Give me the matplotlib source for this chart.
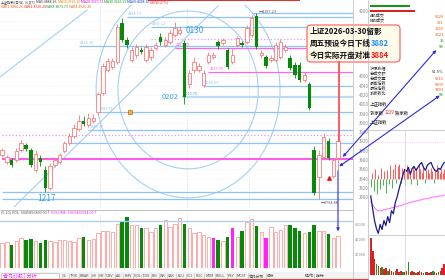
import matplotlib
matplotlib.use("Agg")
import matplotlib.pyplot as plt
from matplotlib.patches import Ellipse, FancyBboxPatch, Rectangle

plt.rcParams["font.family"] = ["Noto Sans CJK SC", "DejaVu Sans"]
plt.rcParams["axes.unicode_minus"] = False

W, H = 445, 280

# ---- 上证指数 日K ----
opens = [3890.8, 3875.7, 3880.0, 3880.0, 3901.6, 3912.3, 3901.6, 3858.5, 3884.3, 3858.5,
         3819.7, 3869.2, 3875.7, 3899.4, 3916.6, 3931.7, 3946.8, 3964.0, 3955.4, 3964.0,
         3983.4, 4024.4, 4074.0, 4080.4, 4091.2, 4175.2, 4138.6, 4095.5, 4106.3, 4117.1,
         4095.5, 4102.0, 4121.4, 4145.1, 4127.8, 4134.3, 4149.4, 4153.7, 4132.1, 4043.8,
         4074.0, 4074.0, 4041.6, 4091.2, 4102.0, 4134.3, 4132.1, 4117.1, 4091.2, 4127.8,
         4132.1, 4134.3, 4149.4, 4190.3, 4106.3, 4102.0, 4095.5, 4095.5, 4102.0, 4117.1,
         4099.8, 4084.7, 4084.7, 4052.4, 4043.8, 3901.6, 3843.4, 3886.5, 3920.9, 3845.5,
         3884.3]
closes = [3901.6, 3886.5, 3869.2, 3899.4, 3916.6, 3903.7, 3869.2, 3892.9, 3875.7, 3819.7,
          3867.1, 3880.0, 3890.8, 3916.6, 3931.7, 3949.0, 3964.0, 3957.6, 3970.5, 3970.5,
          4022.2, 4082.6, 4093.3, 4093.3, 4166.6, 4138.6, 4127.8, 4117.1, 4123.5, 4112.7,
          4123.5, 4117.1, 4127.8, 4134.3, 4138.6, 4153.7, 4164.5, 4160.2, 4015.8, 4067.5,
          4091.2, 4082.6, 4067.5, 4106.3, 4106.3, 4125.7, 4138.6, 4080.4, 4106.3, 4142.9,
          4127.8, 4164.5, 4186.0, 4123.5, 4110.6, 4082.6, 4099.8, 4127.8, 4134.3, 4123.5,
          4078.3, 4063.2, 4052.4, 4063.2, 3992.1, 3808.9, 3890.8, 3929.6, 3884.3, 3880.0,
          3920.9]
highs = [3905.9, 3890.8, 3884.3, 3905.9, 3923.1, 3916.6, 3905.9, 3901.6, 3890.8, 3867.1,
         3873.5, 3886.5, 3895.1, 3920.9, 3938.2, 3957.6, 3977.0, 3974.8, 3981.3, 3979.1,
         4026.5, 4089.0, 4099.8, 4099.8, 4173.1, 4186.0, 4145.1, 4123.5, 4130.0, 4123.5,
         4130.0, 4123.5, 4134.3, 4153.7, 4145.1, 4160.2, 4177.4, 4168.8, 4138.6, 4074.0,
         4102.0, 4089.0, 4074.0, 4112.7, 4112.7, 4138.6, 4142.9, 4121.4, 4121.4, 4147.2,
         4136.4, 4170.9, 4192.0, 4197.23, 4117.1, 4106.3, 4106.3, 4134.3, 4140.8, 4130.0,
         4106.3, 4091.2, 4091.2, 4069.6, 4048.1, 3910.2, 3901.6, 3938.2, 3927.4, 3884.3,
         3931.0]
lows = [3886.5, 3871.4, 3864.9, 3875.7, 3897.2, 3899.4, 3864.9, 3854.1, 3867.1, 3811.0,
        3815.0, 3864.9, 3871.4, 3895.1, 3912.3, 3927.4, 3942.5, 3953.3, 3951.1, 3959.7,
        3979.1, 4020.1, 4069.6, 4076.1, 4086.9, 4134.3, 4121.4, 4091.2, 4099.8, 4108.4,
        4091.2, 4095.5, 4117.1, 4127.8, 4123.5, 4130.0, 4145.1, 4149.4, 4000.7, 4035.2,
        4067.5, 4069.6, 4037.3, 4086.9, 4097.7, 4119.2, 4127.8, 4076.1, 4086.9, 4123.5,
        4123.5, 4130.0, 4145.1, 4119.2, 4099.8, 4078.3, 4091.2, 4091.2, 4097.7, 4112.7,
        4074.0, 4056.7, 4048.1, 4048.1, 3987.8, 3804.6, 3794.88, 3880.0, 3880.0, 3841.2,
        3858.5]
# 成交量(亿)
volumes = [39.5, 41.1, 36.3, 42.7, 47.4, 44.2, 45.8, 42.7, 39.5, 44.2,
           42.7, 41.1, 44.2, 44.2, 42.7, 41.1, 47.4, 49.0, 44.2, 45.8,
           55.3, 58.5, 58.5, 56.9, 69.5, 74.3, 80.6, 67.9, 67.9, 63.2,
           63.2, 56.9, 63.2, 67.9, 75.8, 64.8, 69.5, 79.0, 69.5, 63.2,
           55.3, 56.9, 52.1, 49.0, 47.4, 44.2, 42.7, 49.0, 63.2, 49.0,
           58.5, 72.7, 77.4, 66.4, 56.9, 47.4, 64.8, 56.9, 60.0, 67.9,
           67.9, 63.2, 58.5, 55.3, 56.9, 67.9, 58.5, 58.5, 53.7, 47.4,
           50.5]
magenta_vol = [44, 48, 55]
month_breaks = [20.5, 38.5, 51.5]

# 画线: (价格, 起点K线, 颜色, 线型, 标签)
h_lines = [
    (3794.88, 0, "#8fc3f7", "-", ""),
    (3811.0, 0, "#8fc3f7", "-", ""),
    (3882.0, 0, "#ff55ee", "-", ""),
    (3917.0, 14, "#8fc3f7", "-", ""),
    (3934.0, 0, "#f090e8", ":", ""),
    (3945.4, 18, "#8fc3f7", "-", "3945.37"),
    (3983.4, 20, "#8fc3f7", "-", "3983.71"),
    (4015.8, 37.5, "#b8daf8", "-", "4015.75"),
    (4040.0, 42, "#8fc3f7", "-", "4040.00"),
    (4069.8, 43, "#ff66ee", "-", "4069.76"),
    (4121.3, 36, "#ff66ee", "-", "4121.30"),
    (4126.1, 16, "#8fc3f7", "-", "4126.10"),
    (4140.0, 31, "#f3a0ec", ":", ""),
    (4166.1, 31, "#8fc3f7", "-", "4166.12"),
    (4188.7, 26, "#8fc3f7", "-", "4188.73"),
    (4197.23, 52, "#8fc3f7", "-", ""),
]
# 江恩线 (K线序号, 价格)
gann_lines = [((2.3, 3776.6), (45.0, 4212.0)), ((-0.42, 4059.0), (17.7, 4203.0))]
# 圆: 中心(K线, 价格), 宽(K线数), 高(点)
circles = [((38.75, 4031.0), 29.2, 340.0), ((38.75, 4031.0), 38.3, 465.0)]

# ---- 分时 ----
intraday_price = [3859.6, 3844.0, 3829.6, 3820.0, 3814.0, 3824.8, 3818.8, 3829.6, 3823.6, 3834.4,
                  3827.2, 3841.6, 3838.0, 3851.2, 3858.4, 3868.0, 3876.4, 3884.8, 3892.0, 3889.6,
                  3894.4, 3886.0, 3893.2, 3895.6, 3890.8, 3894.4, 3898.0, 3900.4, 3894.4, 3890.8,
                  3896.8, 3899.2, 3900.4, 3894.4, 3890.8, 3889.6, 3893.2, 3892.0, 3896.8, 3900.4]
intraday_avg = [3852.4, 3848.8, 3845.2, 3842.8, 3841.6, 3841.6, 3841.6, 3842.8, 3842.8, 3844.0,
                3844.0, 3845.2, 3845.2, 3846.4, 3846.4, 3847.6, 3847.6, 3848.8, 3850.0, 3850.0,
                3851.2, 3851.2, 3852.4, 3852.4, 3853.6, 3853.6, 3854.8, 3854.8, 3856.0, 3856.0,
                3856.0, 3857.2, 3857.2, 3858.4, 3858.4, 3858.4, 3859.6, 3859.6, 3859.6, 3860.8]
prev_close = 3880.0
strength = [-10, 7, -14, 12, -18, 5, -12, 14, -7, 10, -17, 11, -6, 17, -11, 13, 18, -5, 16, 19,
            -4, 14, 12, -8, 17, 13, 10, -6, 16, 11, 14, -7, 18, 12, 8, 16, -5, 11, 13, 7,
            14, 10, -4, 12, 17, 11, 8, 13, 7, 12]
intraday_vol = [33, 22, 14, 10, 8, 6, 7, 5, 6, 4, 5, 4, 3, 4, 5, 3, 4, 3, 3, 4,
                12, 3, 4, 3, 2, 3, 4, 3, 2, 3, 3, 2, 3, 4, 3, 2, 3, 4, 6, 10]
intraday_vol_green = [3, 6, 9, 13, 17, 20, 24, 29, 33, 36]

fig = plt.figure(figsize=(W / 100, H / 100), dpi=100)
fig.patch.set_facecolor("white")


def px_axes(x0, y0, x1, y1, z=1):
    a = fig.add_axes([x0 / W, 1 - y1 / H, (x1 - x0) / W, (y1 - y0) / H])
    a.set_zorder(z)
    a.patch.set_alpha(0)
    for s in a.spines.values():
        s.set_visible(False)
    return a


UP, DN, BLUE = "#ff7a7a", "#078a07", "#3c9cf0"
n = len(opens)
idx = list(range(n))

# ---- 主图 ----
ax = px_axes(0, 5, 353, 207)
ax.set_xlim(-0.42, 73.1)
ax.set_ylim(3778.7, 4214)
ax.set_xticks([])
ax.yaxis.tick_right()
# 预设框挡住的刻度不画
ax.set_yticks([p for p in range(3800, 4201, 20) if not 4080 <= p <= 4180])
ax.tick_params(axis="y", length=0, labelsize=3.1, colors="#8a8a8a", pad=4)
for p in range(3800, 4201, 20):
    ax.axhline(p, color="#ececec", lw=0.5, ls=(0, (1, 1.5)), zorder=0)
for k in month_breaks:
    ax.axvline(k, color="#dddddd", lw=0.5, ls=(0, (2, 2)), zorder=0)

for c_xy, w, h in circles:
    ax.add_patch(Ellipse(c_xy, w, h, fill=False, edgecolor="#a6cff7", lw=0.8, zorder=1))
for (x0, y0), (x1, y1) in gann_lines:
    ax.plot([x0, x1], [y0, y1], color="#a6cff7", lw=0.8, zorder=1)
for price, start, col, ls, lab in h_lines:
    ax.hlines(price, start, 73.1, color=col, lw=1.4 if col in ("#ff55ee", "#b8daf8") else 0.9,
              ls=ls, zorder=1)
    if lab:
        ax.text(start + 0.3, price + 2, lab, fontsize=2.8, color=col if col != "#b8daf8" else BLUE,
                va="bottom", ha="left", zorder=3)

ups = [i for i in idx if closes[i] >= opens[i]]
dns = [i for i in idx if closes[i] < opens[i]]
ax.vlines(ups, [lows[i] for i in ups], [highs[i] for i in ups], color=UP, lw=0.6, zorder=2)
ax.bar(ups, [max(closes[i] - opens[i], 1.0) for i in ups], bottom=[opens[i] for i in ups],
       width=0.72, facecolor="white", edgecolor=UP, lw=0.6, zorder=3)
ax.vlines(dns, [lows[i] for i in dns], [highs[i] for i in dns], color=DN, lw=0.6, zorder=2)
ax.bar(dns, [opens[i] - closes[i] for i in dns], bottom=[closes[i] for i in dns],
       width=0.72, color=DN, lw=0, zorder=3)

ax.text(9.3, 3806, "1217", fontsize=6, color=BLUE, ha="center", va="top")
ax.text(38.2, 4158, "0130", fontsize=6, color=BLUE, ha="left", va="center")
ax.text(36.8, 4016, "0202", fontsize=5.5, color=BLUE, ha="right", va="center")
ax.text(66.4, 3792, "←3794.88", fontsize=2.8, color="#555555", ha="left", va="top")
ax.text(53.4, 4199, "←4197.23", fontsize=2.8, color="#555555", ha="left", va="center")
ax.scatter([68], [3841], marker="^", s=6, color="#ee1111", zorder=4)
ax.scatter([26.6], [3983.4], marker="s", s=7, color="#f2b134", edgecolor="#a05a00", lw=0.4, zorder=4)

# ---- 成交量 ----
axv = px_axes(0, 212, 353, 268)
axv.set_xlim(-0.42, 73.1)
axv.set_ylim(0, 88.5)
axv.set_xticks([])
axv.set_yticks([])
for k in month_breaks:
    axv.axvline(k, color="#dddddd", lw=0.5, ls=(0, (2, 2)), zorder=0)
axv.axhline(74.3, color="#a6cff7", lw=0.9)
v_up = [i for i in ups if i not in magenta_vol]
v_dn = [i for i in dns if i not in magenta_vol]
axv.bar(v_up, [volumes[i] for i in v_up], width=0.72, facecolor="white", edgecolor="#ff9c9c", lw=0.6)
axv.bar(v_dn, [volumes[i] for i in v_dn], width=0.72, color=DN, lw=0)
axv.bar(magenta_vol, [volumes[i] for i in magenta_vol], width=0.72, color="#ff22ff", lw=0)

# ---- 分时图 ----
axi = px_axes(370, 130, 445, 235)
axi.set_xlim(-0.5, len(strength) - 0.5)
axi.set_ylim(3812, 3940)
axi.set_xticks([])
axi.set_yticks([])
sx = list(range(len(strength)))
s_up = [i for i in sx if strength[i] > 0]
s_dn = [i for i in sx if strength[i] <= 0]
axi.vlines(s_up, prev_close, [prev_close + strength[i] for i in s_up], color="#ff3030", lw=0.7, alpha=0.8)
axi.vlines(s_dn, prev_close, [prev_close + strength[i] for i in s_dn], color="#18a018", lw=0.7, alpha=0.8)
px_x = [i * (len(strength) - 1) / (len(intraday_price) - 1) for i in range(len(intraday_price))]
axi.plot(px_x, intraday_avg, color="#ff66ff", lw=0.7)
axi.plot(px_x, intraday_price, color="#1a1a8c", lw=0.9)
axi.axhline(3925, color="#ff88ff", lw=0.5, ls=(0, (1, 2)))

axiv = px_axes(370, 235, 445, 275)
axiv.set_xlim(-0.5, len(intraday_vol) - 0.5)
axiv.set_ylim(0, 36)
axiv.set_xticks([])
axiv.set_yticks([])
iv_r = [i for i in range(len(intraday_vol)) if i not in intraday_vol_green]
axiv.bar(iv_r, [intraday_vol[i] for i in iv_r], width=0.8, color="#dd2020", lw=0)
axiv.bar(intraday_vol_green, [intraday_vol[i] for i in intraday_vol_green], width=0.8, color="#1a9a1a", lw=0)

# ---- 覆盖层: 文字/框/箭头 ----
ov = fig.add_axes([0, 0, 1, 1])
ov.set_zorder(10)
ov.patch.set_alpha(0)
ov.set_xlim(0, W)
ov.set_ylim(H, 0)
ov.axis("off")
R = fig.canvas.get_renderer()


def color_line(x, y, parts, size, weight="normal"):
    for s, col in parts:
        t = ov.text(x, y, s, color=col, fontsize=size, fontweight=weight, va="center", ha="left")
        x += t.get_window_extent(renderer=R).width


ov.add_patch(Rectangle((148, 0), 152, 1.4, color="#e03030", lw=0))
ov.vlines([353, 368], 0, 280, color="#c4c4c4", lw=0.6)
ov.hlines(210, 0, 353, color="#c0c0c0", lw=0.7)
ov.hlines(130, 368, 445, color="#c4c4c4", lw=0.6)
ov.hlines(235, 368, 445, color="#c4c4c4", lw=0.6)
ov.vlines(405, 130, 275, color="#d0d0d0", lw=0.5)

color_line(1, 2.4, [("上证指数(日线)", "#444444"), (" 前复权 ", "#888888"), ("MA5:3884.26 ", "#333333"),
                    ("MA10:3926.20 ", "#e08000"), ("MA20:3973.73 ", "#dd00dd"), ("MA30:3926.29 ", "#009900"),
                    ("MA60:4008.10 ", "#0044cc"), ("0.87(0.27%)", "#ee2222")], 2.5)
color_line(1, 6.6, [("VAR1:3884.26 ", "#ee6010"), ("VAR2:3926.20 ", "#ee2222"),
                    ("VAR3:3873.73 ", "#109a10"), ("VAR4:3926.20 ", "#ee6010")], 2.5)

# 预设框
ov.add_patch(FancyBboxPatch((307, 25), 93, 37, boxstyle="round,pad=0,rounding_size=4",
                            facecolor="#fffbea", edgecolor="#ff6a6a", lw=0.9))
color_line(310, 31.5, [("上证2026-03-30留影", "#111111")], 5.5, "bold")
color_line(310, 43.5, [("周五预设今日下线", "#111111"), ("3882", "#1e88ff")], 5.5, "bold")
color_line(310, 55.5, [("今日实际开盘对准", "#111111"), ("3884", "#ff1010")], 5.5, "bold")
ov.plot([339, 339], [62, 141], color="#ff5050", lw=1.3)

# 蓝色箭头
arr = dict(arrowstyle="<|-|>", color="#2a2ae6", lw=0.8, mutation_scale=4)
ov.annotate("", xy=(438, 48), xytext=(341, 159), arrowprops=arr)
ov.annotate("", xy=(442, 94), xytext=(337, 168), arrowprops=arr)
ov.annotate("", xy=(338, 234), xytext=(338, 168),
            arrowprops=dict(arrowstyle="-|>", color="#2a2ae6", lw=0.8, mutation_scale=4))

# 成交量标题
color_line(1, 213.5, [("(5,10) VOL: 5045856800.00↑ ", "#555555"), ("VOLUME: 5069460924.00↑", "#ee22ee")], 2.7)

# 右侧信息栏
ov.add_patch(Rectangle((370, 5), 40, 2, color="#109a10", lw=0))
ov.add_patch(Rectangle((370, 10), 45, 2, color="#e02020", lw=0))
ov.text(370, 15, "A股成交", fontsize=3.0, color="#333333", va="center")
ov.text(370, 20, "B股成交", fontsize=3.0, color="#333333", va="center")
right_labels = ["沪深涨幅", "总成交额", "总成交量", "最高指数", "最低指数", "涨家数比"]
for k, s in enumerate(right_labels):
    ov.text(370, 68 + k * 5.0, s, fontsize=3.0, color="#333333", va="center")
right_vals = [("6620", "#ee6010"), ("991", "#ee6010"), ("1555", "#ee6010"), ("3323", "#ee6010"),
              ("35", "#109a10"), ("58", "#109a10")]
for k, (s, col) in enumerate(right_vals):
    ov.text(444, 17 + k * 6.0, s, fontsize=3.0, color=col, va="center", ha="right")
ov.text(444, 72, "51.5%", fontsize=3.0, color="#333333", va="center", ha="right")
for k, (s, col) in enumerate([("9315", "#ee6010"), ("5895", "#ee6010"), ("3893", "#ee6010"), ("58", "#109a10")]):
    ov.text(444, 79 + k * 5.5, s, fontsize=3.0, color=col, va="center", ha="right")
ov.text(370, 104, "上证指数", fontsize=3.2, color="#222222", va="center")
color_line(370, 113, [("涨家数 ", "#222222"), ("1229", "#ee2222"), (" 跌家数", "#222222")], 3.2)
ov.text(370, 122, "上证指数", fontsize=3.2, color="#222222", va="center")
for k, s in enumerate(["60000", "40000", "20000"]):
    ov.text(366, 225 + k * 15, s, fontsize=2.8, color="#888888", va="center", ha="right")

# 底部标签栏
ov.add_patch(Rectangle((0, 272), 368, 8, color="#f2f2f2", lw=0))
ov.add_patch(Rectangle((1, 273), 58, 6, facecolor="white", edgecolor="#aaaaaa", lw=0.4))
ov.text(3, 276, "青岛炒股 | 分析", fontsize=3.6, color="#ee22ee", va="center")
tabs = ["SL", "TRIX", "BRAR", "CR", "VR", "OBV", "ASI", "EMV", "VOL-TDX", "RSI", "WR", "SAR", "KDJ",
        "CCI", "ROC", "MTM", "BOLL", "PSY", "MCST", "筹码分布", "模板"]
tx = 62
for s in tabs:
    t = ov.text(tx + 1, 276, s, fontsize=2.7, color="#555555", va="center")
    w = t.get_window_extent(renderer=R).width
    ov.vlines(tx, 273, 279, color="#bbbbbb", lw=0.4)
    tx += w + 2.5
ov.text(305, 276, "操作 | 指标", fontsize=2.9, color="#444444", va="center")
ov.hlines(279.3, 0, 368, color="#e04040", lw=0.8)

fig.savefig("out.png", dpi=100)
